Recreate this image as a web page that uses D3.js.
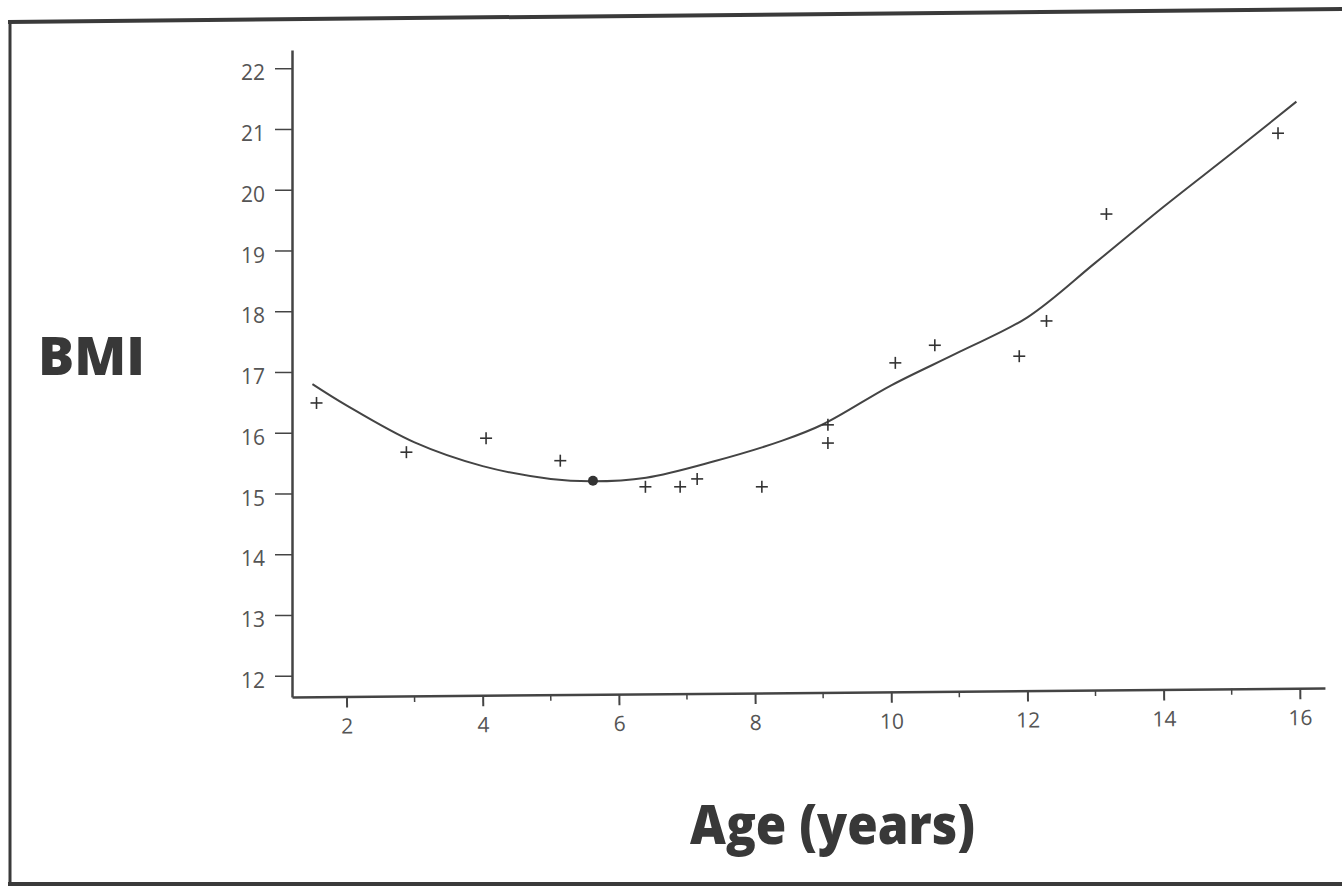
<!DOCTYPE html>
<html>
<head>
<meta charset="utf-8">
<script src="https://cdn.jsdelivr.net/npm/d3@7"></script>
<style>
  body { margin: 0; background: #fff; }
  svg { display: block; }
  .tick text { font-family: "Open Sans", sans-serif; font-size: 21px; fill: #555; }
  .domain, .tick line { stroke: #444; }
</style>
</head>
<body>
<svg width="1342" height="890"></svg>
<script>
// observed points (age, bmi)
const ageObs = [1.56, 2.88, 4.05, 5.14, 6.39, 6.90, 7.15, 8.10, 9.07, 9.07, 10.06, 10.64, 11.88, 12.28, 13.16, 15.68];
const bmiObs = [16.49, 15.68, 15.91, 15.54, 15.11, 15.11, 15.24, 15.11, 16.13, 15.83, 17.15, 17.44, 17.26, 17.84, 19.60, 20.93];
// highlighted point
const ageDot = [5.62];
const bmiDot = [15.21];
// fitted curve
const ageFit = [1.5, 2, 3, 4, 5, 5.6, 6.4, 7.4, 8.4, 9, 10, 11, 12, 13, 14, 15, 15.95];
const bmiFit = [16.8, 16.45, 15.84, 15.45, 15.24, 15.2, 15.26, 15.53, 15.87, 16.14, 16.78, 17.33, 17.9, 18.8, 19.72, 20.6, 21.45];
// ticks
const yTicks = [12, 13, 14, 15, 16, 17, 18, 19, 20, 21, 22];
const xMajor = [2, 4, 6, 8, 10, 12, 14, 16];
const xMinor = [3, 5, 7, 9, 11, 13, 15];

const svg = d3.select("svg");

// frame of the scanned page
svg.append("line").attr("x1", 8).attr("y1", 22).attr("x2", 1342).attr("y2", 9)
  .attr("stroke", "#3a3a3a").attr("stroke-width", 4);
svg.append("line").attr("x1", 10).attr("y1", 21).attr("x2", 10).attr("y2", 886)
  .attr("stroke", "#3a3a3a").attr("stroke-width", 3);
svg.append("line").attr("x1", 8).attr("y1", 884).attr("x2", 1342).attr("y2", 884)
  .attr("stroke", "#3a3a3a").attr("stroke-width", 4);

const mLeft = 292, mRight = 1325, mTop = 50, mBottom = 697;

const x = d3.scaleLinear().domain([1.2, 16.37]).range([mLeft, mRight]);
const y = d3.scaleLinear().domain([11.65, 22.3]).range([mBottom, mTop]);

// y axis
const gy = svg.append("g").attr("transform", `translate(${mLeft},0)`)
  .call(d3.axisLeft(y).tickValues(yTicks).tickSize(17).tickPadding(10).tickSizeOuter(0));
gy.select(".domain").attr("stroke-width", 2.5);
gy.selectAll(".tick line").attr("stroke-width", 1.5);
gy.selectAll(".tick text").attr("dy", "0.55em");

// x axis (scan is slightly tilted)
const gx = svg.append("g").attr("transform", `translate(0,${mBottom}) rotate(-0.5 ${mLeft} 0)`);
gx.call(d3.axisBottom(x).tickValues(xMajor).tickSize(11).tickPadding(11).tickSizeOuter(0));
gx.select(".domain").attr("stroke-width", 2.5);
gx.selectAll(".tick line").attr("stroke-width", 2);
gx.selectAll(".minor").data(xMinor).join("line")
  .attr("class", "minor")
  .attr("x1", d => x(d)).attr("x2", d => x(d))
  .attr("y1", 0).attr("y2", 6)
  .attr("stroke", "#444").attr("stroke-width", 1.5);

// fitted curve
const fit = ageFit.map((a, i) => [a, bmiFit[i]]);
svg.append("path")
  .datum(fit)
  .attr("fill", "none")
  .attr("stroke", "#444")
  .attr("stroke-width", 2)
  .attr("d", d3.line().x(d => x(d[0])).y(d => y(d[1])).curve(d3.curveCatmullRom.alpha(0.5)));

// plus markers
const obs = ageObs.map((a, i) => [a, bmiObs[i]]);
const s = 6;
const plus = svg.append("g").attr("stroke", "#333").attr("stroke-width", 1.6);
plus.selectAll(".h").data(obs).join("line").attr("class", "h")
  .attr("x1", d => x(d[0]) - s).attr("x2", d => x(d[0]) + s)
  .attr("y1", d => y(d[1])).attr("y2", d => y(d[1]));
plus.selectAll(".v").data(obs).join("line").attr("class", "v")
  .attr("x1", d => x(d[0])).attr("x2", d => x(d[0]))
  .attr("y1", d => y(d[1]) - s).attr("y2", d => y(d[1]) + s);

// highlighted dot
svg.selectAll(".dot").data(ageDot.map((a, i) => [a, bmiDot[i]])).join("circle")
  .attr("class", "dot")
  .attr("cx", d => x(d[0])).attr("cy", d => y(d[1])).attr("r", 5)
  .attr("fill", "#333");

// axis titles
svg.append("text").attr("x", 38).attr("y", 375)
  .attr("font-family", "Open Sans, sans-serif").attr("font-weight", 800)
  .attr("font-size", 53).attr("fill", "#383838")
  .attr("textLength", 107).attr("lengthAdjust", "spacingAndGlyphs")
  .text("BMI");
svg.append("text").attr("x", 690).attr("y", 844)
  .attr("font-family", "Open Sans, sans-serif").attr("font-weight", 800)
  .attr("font-size", 54).attr("fill", "#383838")
  .attr("textLength", 285).attr("lengthAdjust", "spacingAndGlyphs")
  .text("Age (years)");
</script>
</body>
</html>
